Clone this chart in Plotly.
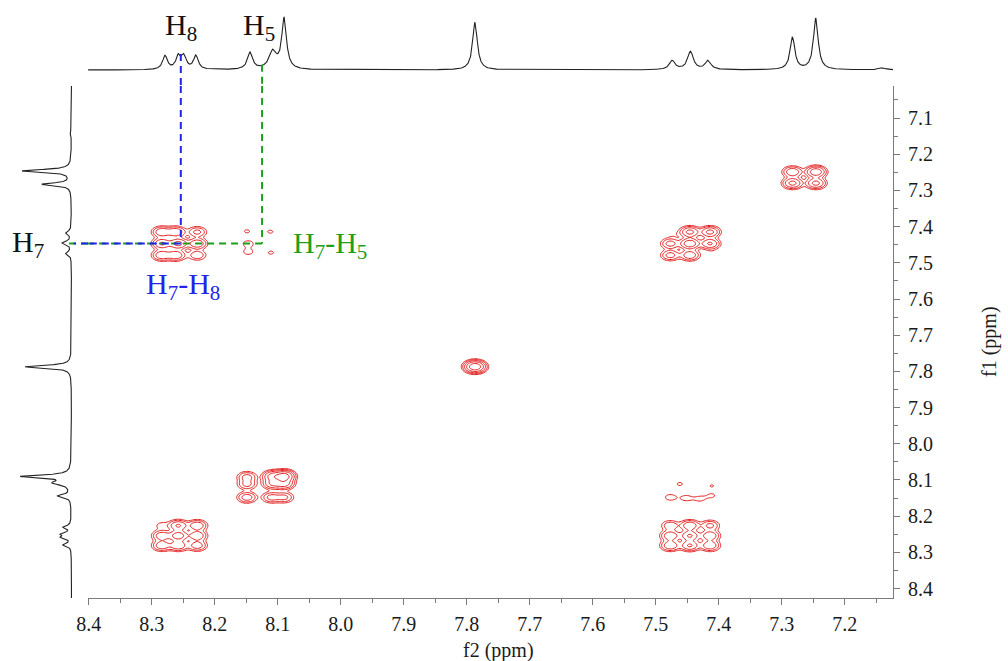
import numpy as np
import plotly.graph_objects as go

# ---------------------------------------------------------------- 1D 1H lines
line_ppm = [8.279, 8.258, 8.249, 8.230, 8.144, 8.108, 8.090, 7.787,
            7.474, 7.445, 7.417, 7.283, 7.246, 7.141]
line_hwhm = [0.0045, 0.0045, 0.0045, 0.0045, 0.0050, 0.0070, 0.0045, 0.0045,
             0.0055, 0.0055, 0.0055, 0.0045, 0.0045, 0.0060]
f2_height = [0.26, 0.24, 0.24, 0.26, 0.32, 0.33, 0.95, 0.90,
             0.17, 0.34, 0.17, 0.61, 0.97, 0.04]
f1_height = [0.16, 0.18, 0.18, 0.16, 0.26, 0.33, 0.98, 0.93,
             0.11, 0.18, 0.11, 0.58, 0.98, 0.03]

# ---------------------------------------------------------------- COSY peaks
cross_f2 = [7.283, 7.246, 7.283, 7.246,
            7.787,
            7.446, 7.414, 7.472, 7.477, 7.446, 7.414, 7.477, 7.446, 7.410,
            8.090, 8.108, 8.090, 8.108, 8.149, 8.149, 8.149, 8.110, 8.090,
            8.284, 8.258, 8.228, 8.284, 8.258, 8.228, 8.284, 8.258, 8.228,
            8.284, 8.262, 8.228, 8.284, 8.258, 8.228, 8.284, 8.262, 8.228,
            7.477, 7.446, 7.414, 7.477, 7.446, 7.414, 7.477, 7.446, 7.414,
            8.147, 8.147, 8.149, 8.112, 8.111,
            7.477, 7.452, 7.430, 7.462, 7.411, 7.411]
cross_f1 = [7.249, 7.249, 7.280, 7.280,
            7.787,
            7.415, 7.415, 7.423, 7.447, 7.447, 7.447, 7.479, 7.479, 7.475,
            8.090, 8.090, 8.110, 8.110, 8.092, 8.112, 8.148, 8.148, 8.148,
            8.226, 8.226, 8.226, 8.254, 8.254, 8.254, 8.281, 8.281, 8.281,
            7.415, 7.415, 7.415, 7.447, 7.447, 7.447, 7.479, 7.479, 7.479,
            8.226, 8.226, 8.226, 8.254, 8.254, 8.254, 8.281, 8.281, 8.281,
            7.447, 7.470, 7.413, 7.414, 7.472,
            8.148, 8.150, 8.152, 8.111, 8.116, 8.143]
cross_amp = [0.30, 0.55, 0.40, 0.40,
             1.10,
             0.40, 0.40, 0.03, 0.22, 0.55, 0.35, 0.22, 0.28, 0.03,
             0.95, 0.45, 0.45, 0.35, 0.22, 0.20, 0.25, 0.22, 0.20,
             0.06, 0.35, 0.30, 0.28, 0.50, 0.30, 0.28, 0.30, 0.25,
             0.30, 0.30, 0.20, 0.35, 0.40, 0.30, 0.30, 0.30, 0.15,
             0.15, 0.30, 0.20, 0.30, 0.35, 0.30, 0.30, 0.35, 0.30,
             0.060, 0.055, 0.045, 0.045, 0.045,
             0.060, 0.055, 0.050, 0.045, 0.042, 0.045]
peak_sigma = 0.0085
contour_levels = [0.04, 0.08, 0.16, 0.32, 0.64]

# ---------------------------------------------------------------- annotations
h8_ppm, h5_ppm, h7_ppm = 8.254, 8.125, 7.447
x_ticks = [8.4, 8.3, 8.2, 8.1, 8.0, 7.9, 7.8, 7.7, 7.6, 7.5, 7.4, 7.3, 7.2]
x_ticktext = ["8.4", "8.3", "8.2", "8.1", "8.0", "7.9", "7.8", "7.7", "7.6",
              "7.5", "7.4", "7.3", "7.2"]
y_ticks = [7.1, 7.2, 7.3, 7.4, 7.5, 7.6, 7.7, 7.8, 7.9, 8.0, 8.1, 8.2, 8.3, 8.4]
y_ticktext = ["7.1", "7.2", "7.3", "7.4", "7.5", "7.6", "7.7", "7.8", "7.9",
              "8.0", "8.1", "8.2", "8.3", "8.4"]

# ---------------------------------------------------------------- layout constants
W, H = 1008, 661
F2_RANGE = [8.4013, 7.1235]
F1_RANGE = [8.426, 7.0116]
TOP_RANGE = [-0.302, 1.17]
LEFT_RANGE = [1.43, -0.33]
px_main_x = (88, 893)
px_main_y = (86, 598)

SERIF = "Liberation Serif, Times New Roman, serif"
RED = "rgb(226,28,28)"
BLUE = "rgb(36,36,232)"
GREEN = "rgb(28,160,28)"
AXIS_GREY = "#7a7a7a"


def spectrum(axis, heights):
    s = np.zeros_like(axis)
    for p, w, h in zip(line_ppm, line_hwhm, heights):
        s += h / (1.0 + ((axis - p) / w) ** 2)
    return s


ppm1d_f2 = np.arange(F2_RANGE[1], F2_RANGE[0], 0.0004)
ppm1d_f1 = np.arange(F1_RANGE[1], F1_RANGE[0], 0.0004)
top_trace = spectrum(ppm1d_f2, f2_height)
left_trace = spectrum(ppm1d_f1, f1_height)

# 2D map on a regular grid
g2 = np.arange(F2_RANGE[1], F2_RANGE[0], 0.002)
g1 = np.arange(F1_RANGE[1], F1_RANGE[0], 0.002)
X, Y = np.meshgrid(g2, g1)
Z = np.zeros_like(X)
for a, b, c in zip(cross_f2, cross_f1, cross_amp):
    Z += c * np.exp(-0.5 * (((X - a) / peak_sigma) ** 2 + ((Y - b) / peak_sigma) ** 2))
logZ = np.log10(Z + 1e-7).astype(np.float32)

lv = np.log10(contour_levels)
fig = go.Figure()
fig.add_trace(go.Contour(
    x=g2, y=g1, z=logZ, xaxis="x", yaxis="y",
    autocontour=False,
    contours=dict(coloring="lines", start=lv[0], end=lv[-1] + 1e-3,
                  size=lv[1] - lv[0]),
    colorscale=[[0, RED], [1, RED]], showscale=False,
    line=dict(width=1, smoothing=1), hoverinfo="skip"))

fig.add_trace(go.Scatter(x=ppm1d_f2, y=top_trace, xaxis="x2", yaxis="y2",
                         mode="lines", line=dict(color="#222", width=1.1),
                         hoverinfo="skip"))
fig.add_trace(go.Scatter(x=left_trace, y=ppm1d_f1, xaxis="x3", yaxis="y3",
                         mode="lines", line=dict(color="#222", width=1.1),
                         hoverinfo="skip"))

dash = "7px,5px"
# H7 guide lines (horizontal)
fig.add_trace(go.Scatter(x=[h5_ppm, F2_RANGE[0]], y=[h7_ppm, h7_ppm], mode="lines",
                         line=dict(color=GREEN, width=2, dash=dash), hoverinfo="skip"))
fig.add_trace(go.Scatter(x=[LEFT_RANGE[1], 0.07], y=[h7_ppm, h7_ppm], xaxis="x3", yaxis="y3",
                         mode="lines", line=dict(color=GREEN, width=2, dash=dash), hoverinfo="skip"))
fig.add_trace(go.Scatter(x=[h8_ppm, F2_RANGE[0]], y=[h7_ppm, h7_ppm], mode="lines",
                         line=dict(color=BLUE, width=2, dash=dash), hoverinfo="skip"))
fig.add_trace(go.Scatter(x=[LEFT_RANGE[1], -0.04], y=[h7_ppm, h7_ppm], xaxis="x3", yaxis="y3",
                         mode="lines", line=dict(color=BLUE, width=2, dash=dash), hoverinfo="skip"))
# vertical guide lines
fig.add_trace(go.Scatter(x=[h8_ppm, h8_ppm], y=[0.30, TOP_RANGE[0]], xaxis="x2", yaxis="y2",
                         mode="lines", line=dict(color=BLUE, width=2, dash=dash), hoverinfo="skip"))
fig.add_trace(go.Scatter(x=[h8_ppm, h8_ppm], y=[F1_RANGE[1], h7_ppm - 0.01], mode="lines",
                         line=dict(color=BLUE, width=2, dash=dash), hoverinfo="skip"))
fig.add_trace(go.Scatter(x=[h5_ppm, h5_ppm], y=[0.10, TOP_RANGE[0]], xaxis="x2", yaxis="y2",
                         mode="lines", line=dict(color=GREEN, width=2, dash=dash), hoverinfo="skip"))
fig.add_trace(go.Scatter(x=[h5_ppm, h5_ppm], y=[F1_RANGE[1], h7_ppm], mode="lines",
                         line=dict(color=GREEN, width=2, dash=dash), hoverinfo="skip"))

dom_x = [px_main_x[0] / W, px_main_x[1] / W]
dom_y = [1 - px_main_y[1] / H, 1 - px_main_y[0] / H]
tickfont = dict(family=SERIF, size=20, color="#1a1a1a")

fig.update_layout(
    width=W, height=H, margin=dict(l=0, r=0, t=0, b=0, pad=0, autoexpand=False),
    paper_bgcolor="white", plot_bgcolor="rgba(0,0,0,0)", showlegend=False,
    xaxis=dict(domain=dom_x, anchor="y", range=F2_RANGE, showgrid=False, zeroline=False,
               showline=True, linecolor=AXIS_GREY, linewidth=1, automargin=False,
               ticks="outside", ticklen=6, tickcolor=AXIS_GREY,
               tickmode="array", tickvals=x_ticks, ticktext=x_ticktext,
               tickfont=tickfont, ticklabelstandoff=2,
               minor=dict(ticks="outside", ticklen=4, tickcolor=AXIS_GREY,
                          tick0=7.0, dtick=0.05, showgrid=False)),
    yaxis=dict(domain=dom_y, anchor="x", side="right", range=F1_RANGE, showgrid=False,
               zeroline=False, showline=True, linecolor=AXIS_GREY, linewidth=1,
               automargin=False,
               ticks="outside", ticklen=6, tickcolor=AXIS_GREY,
               tickmode="array", tickvals=y_ticks, ticktext=y_ticktext,
               tickfont=tickfont, ticklabelstandoff=4,
               minor=dict(ticks="outside", ticklen=4, tickcolor=AXIS_GREY,
                          tick0=7.0, dtick=0.05, showgrid=False)),
    xaxis2=dict(domain=dom_x, anchor="y2", range=F2_RANGE, visible=False),
    yaxis2=dict(domain=[dom_y[1], 1 - 8 / H], anchor="x2", range=TOP_RANGE, visible=False),
    xaxis3=dict(domain=[0, dom_x[0]], anchor="y3", range=LEFT_RANGE, visible=False),
    yaxis3=dict(domain=dom_y, anchor="x3", range=F1_RANGE, visible=False),
)

label_font = dict(family=SERIF, size=30, color="#111")
common = dict(showarrow=False, xanchor="center", yanchor="middle")
fig.add_annotation(x=h8_ppm, y=0.81, xref="x2", yref="y2", text="H<sub>8</sub>",
                   font=label_font, **common)
fig.add_annotation(x=8.13, y=0.81, xref="x2", yref="y2", text="H<sub>5</sub>",
                   font=label_font, **common)
fig.add_annotation(x=0.87, y=h7_ppm, xref="x3", yref="y3", text="H<sub>7</sub>",
                   font=label_font, **common)
fig.add_annotation(x=8.017, y=7.452, xref="x", yref="y", text="H<sub>7</sub>-H<sub>5</sub>",
                   font=dict(family=SERIF, size=30, color=GREEN), **common)
fig.add_annotation(x=8.250, y=7.564, xref="x", yref="y", text="H<sub>7</sub>-H<sub>8</sub>",
                   font=dict(family=SERIF, size=30, color=BLUE), **common)
fig.add_annotation(x=7.75, y=1 - 650 / H, xref="x", yref="paper", text="f2 (ppm)",
                   font=dict(family=SERIF, size=20, color="#1a1a1a"), **common)
fig.add_annotation(x=990 / W, y=(dom_y[0] + dom_y[1]) / 2, xref="paper", yref="paper",
                   text="f1 (ppm)", textangle=-90,
                   font=dict(family=SERIF, size=20, color="#1a1a1a"), **common)

fig.write_html("out.html")
